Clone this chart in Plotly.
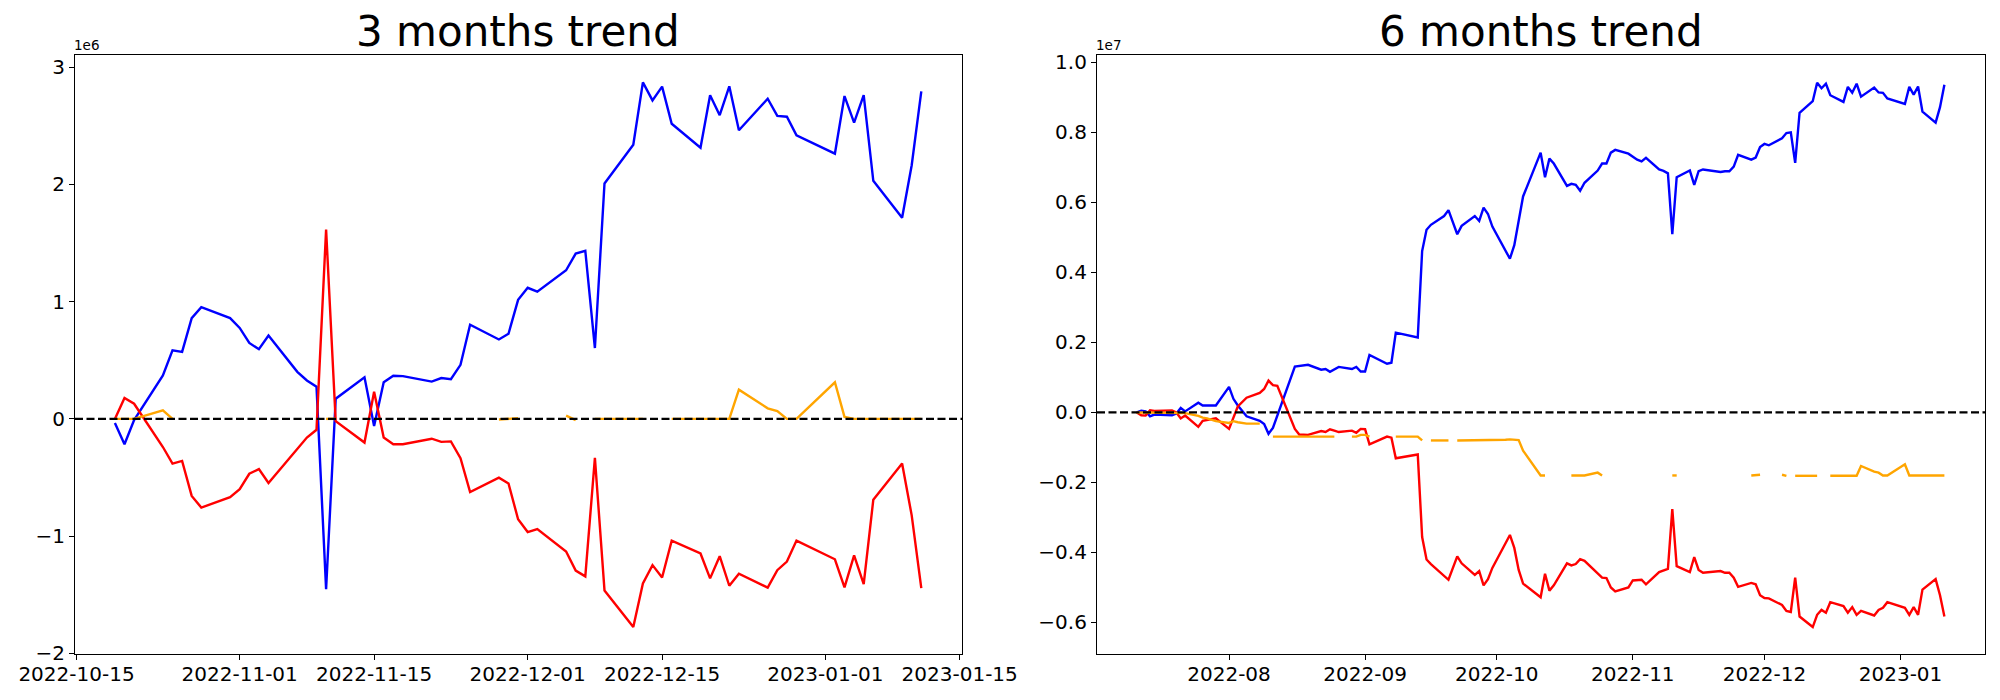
import plotly.graph_objects as go

# ---------------- 3 months panel (values in millions) ----------------
dates_3m = ["2022-10-19","2022-10-20","2022-10-21","2022-10-24","2022-10-25","2022-10-26","2022-10-27","2022-10-28","2022-10-31",
            "2022-11-01","2022-11-02","2022-11-03","2022-11-04","2022-11-07","2022-11-08","2022-11-09","2022-11-10","2022-11-11",
            "2022-11-14","2022-11-15","2022-11-16","2022-11-17","2022-11-18","2022-11-21","2022-11-22","2022-11-23","2022-11-24",
            "2022-11-25","2022-11-28","2022-11-29","2022-11-30",
            "2022-12-01","2022-12-02","2022-12-05","2022-12-06","2022-12-07","2022-12-08","2022-12-09","2022-12-12","2022-12-13",
            "2022-12-14","2022-12-15","2022-12-16","2022-12-19","2022-12-20","2022-12-21","2022-12-22","2022-12-23","2022-12-26",
            "2022-12-27","2022-12-28","2022-12-29",
            "2023-01-02","2023-01-03","2023-01-04","2023-01-05","2023-01-06","2023-01-09","2023-01-10","2023-01-11"]

blue_3m = [-0.036, -0.216, -0.01, 0.371, 0.584, 0.571, 0.859, 0.952, 0.859,
           0.776, 0.647, 0.594, 0.710, 0.401, 0.328, 0.275, -1.453, 0.172, 0.355, -0.06, 0.312, 0.368, 0.365,
           0.318, 0.348, 0.338, 0.461, 0.803, 0.677, 0.726, 1.015,
           1.118, 1.085, 1.267, 1.410, 1.433, 0.604, 2.007, 2.338, 2.869, 2.716, 2.833, 2.517, 2.312, 2.760,
           2.590, 2.836, 2.461, 2.730, 2.584, 2.577, 2.418,
           2.262, 2.753, 2.527, 2.760, 2.030, 1.715, 2.163, 2.793]

red_3m = [0, 0.179, 0.129, -0.24, -0.381, -0.358, -0.657, -0.756, -0.667,
          -0.600, -0.468, -0.428, -0.547, -0.249, -0.159, -0.093, 1.615, -0.02, -0.202, 0.232, -0.159, -0.216,
          -0.216, -0.169, -0.196, -0.192, -0.335, -0.624, -0.501, -0.551, -0.856,
          -0.965, -0.939, -1.131, -1.294, -1.343, -0.332, -1.463, -1.774, -1.403, -1.247, -1.353, -1.038, -1.148,
          -1.360, -1.171, -1.423, -1.320, -1.439, -1.290, -1.217, -1.038,
          -1.197, -1.436, -1.164, -1.410, -0.690, -0.381, -0.823, -1.443]

orange_3m = [0, 0, 0, 0.072, 0, None, None, None, None,
             None, None, None, None, None, None, None, 0, 0, None, None, None, None, None,
             None, None, None, None, None, -0.005, 0.003, 0.005,
             None, None, 0.028, -0.01, None, 0, 0, 0, 0, None, None, 0, 0, 0, 0, 0, 0.249, 0.09, 0.066, 0, 0,
             0.312, 0.017, 0, 0, 0, 0, 0, 0]

ticks_3m = ["2022-10-15", "2022-11-01", "2022-11-15", "2022-12-01", "2022-12-15", "2023-01-01", "2023-01-15"]
yticks_3m = [-2, -1, 0, 1, 2, 3]

# ---------------- 6 months panel (values in units of 1e7) ----------------
blue_6m = [("2022-07-11", 0), ("2022-07-12", 0.005), ("2022-07-13", 0.003), ("2022-07-14", -0.011), ("2022-07-15", -0.006),
           ("2022-07-18", -0.007), ("2022-07-19", -0.008), ("2022-07-20", -0.003), ("2022-07-21", 0.013), ("2022-07-22", 0.003),
           ("2022-07-25", 0.028), ("2022-07-26", 0.020), ("2022-07-29", 0.020), ("2022-08-01", 0.073), ("2022-08-02", 0.039),
           ("2022-08-03", 0.020), ("2022-08-05", -0.011), ("2022-08-08", -0.024), ("2022-08-09", -0.033), ("2022-08-10", -0.061),
           ("2022-08-11", -0.044), ("2022-08-16", 0.131), ("2022-08-19", 0.136), ("2022-08-22", 0.122), ("2022-08-23", 0.124),
           ("2022-08-24", 0.116), ("2022-08-26", 0.130), ("2022-08-29", 0.124), ("2022-08-30", 0.130), ("2022-08-31", 0.117),
           ("2022-09-01", 0.117), ("2022-09-02", 0.164), ("2022-09-06", 0.139), ("2022-09-07", 0.142), ("2022-09-08", 0.228),
           ("2022-09-13", 0.214), ("2022-09-14", 0.461), ("2022-09-15", 0.522), ("2022-09-16", 0.536), ("2022-09-19", 0.561),
           ("2022-09-20", 0.578), ("2022-09-22", 0.509), ("2022-09-23", 0.533), ("2022-09-26", 0.561), ("2022-09-27", 0.547),
           ("2022-09-28", 0.585), ("2022-09-29", 0.567), ("2022-09-30", 0.531), ("2022-10-04", 0.439), ("2022-10-05", 0.478),
           ("2022-10-07", 0.617), ("2022-10-11", 0.742), ("2022-10-12", 0.672), ("2022-10-13", 0.725), ("2022-10-14", 0.711),
           ("2022-10-17", 0.647), ("2022-10-18", 0.653), ("2022-10-19", 0.650), ("2022-10-20", 0.633), ("2022-10-21", 0.656),
           ("2022-10-24", 0.691), ("2022-10-25", 0.711), ("2022-10-26", 0.711), ("2022-10-27", 0.742), ("2022-10-28", 0.750),
           ("2022-10-31", 0.739), ("2022-11-01", 0.730), ("2022-11-02", 0.722), ("2022-11-03", 0.717), ("2022-11-04", 0.727),
           ("2022-11-07", 0.694), ("2022-11-08", 0.690), ("2022-11-09", 0.683), ("2022-11-10", 0.509), ("2022-11-11", 0.672),
           ("2022-11-14", 0.691), ("2022-11-15", 0.650), ("2022-11-16", 0.689), ("2022-11-17", 0.694), ("2022-11-21", 0.687),
           ("2022-11-22", 0.689), ("2022-11-23", 0.689), ("2022-11-24", 0.702), ("2022-11-25", 0.736), ("2022-11-28", 0.722),
           ("2022-11-29", 0.728), ("2022-11-30", 0.758), ("2022-12-01", 0.767), ("2022-12-02", 0.763), ("2022-12-05", 0.783),
           ("2022-12-06", 0.798), ("2022-12-07", 0.800), ("2022-12-08", 0.713), ("2022-12-09", 0.856), ("2022-12-12", 0.889),
           ("2022-12-13", 0.942), ("2022-12-14", 0.926), ("2022-12-15", 0.939), ("2022-12-16", 0.906), ("2022-12-19", 0.887),
           ("2022-12-20", 0.930), ("2022-12-21", 0.913), ("2022-12-22", 0.939), ("2022-12-23", 0.902), ("2022-12-26", 0.928),
           ("2022-12-27", 0.914), ("2022-12-28", 0.913), ("2022-12-29", 0.897), ("2023-01-02", 0.881), ("2023-01-03", 0.930),
           ("2023-01-04", 0.908), ("2023-01-05", 0.931), ("2023-01-06", 0.859), ("2023-01-09", 0.828), ("2023-01-10", 0.872),
           ("2023-01-11", 0.936)]

red_6m = [("2022-07-11", 0), ("2022-07-12", -0.008), ("2022-07-13", -0.009), ("2022-07-14", 0.006), ("2022-07-15", 0.004),
          ("2022-07-18", 0.006), ("2022-07-19", 0.006), ("2022-07-20", 0), ("2022-07-21", -0.017), ("2022-07-22", -0.009),
          ("2022-07-25", -0.041), ("2022-07-26", -0.024), ("2022-07-28", -0.020), ("2022-07-29", -0.017), ("2022-08-01", -0.047),
          ("2022-08-02", -0.017), ("2022-08-03", 0.017), ("2022-08-05", 0.042), ("2022-08-08", 0.056), ("2022-08-09", 0.067),
          ("2022-08-10", 0.091), ("2022-08-11", 0.078), ("2022-08-12", 0.076), ("2022-08-16", -0.047), ("2022-08-17", -0.063),
          ("2022-08-19", -0.064), ("2022-08-22", -0.053), ("2022-08-23", -0.056), ("2022-08-24", -0.048), ("2022-08-25", -0.052),
          ("2022-08-26", -0.056), ("2022-08-29", -0.052), ("2022-08-30", -0.058), ("2022-08-31", -0.047), ("2022-09-01", -0.048),
          ("2022-09-02", -0.091), ("2022-09-06", -0.069), ("2022-09-07", -0.072), ("2022-09-08", -0.131), ("2022-09-13", -0.120),
          ("2022-09-14", -0.356), ("2022-09-15", -0.420), ("2022-09-16", -0.433), ("2022-09-20", -0.478), ("2022-09-22", -0.411),
          ("2022-09-23", -0.431), ("2022-09-26", -0.464), ("2022-09-27", -0.453), ("2022-09-28", -0.494), ("2022-09-29", -0.476),
          ("2022-09-30", -0.444), ("2022-10-04", -0.350), ("2022-10-05", -0.387), ("2022-10-06", -0.450), ("2022-10-07", -0.489),
          ("2022-10-11", -0.528), ("2022-10-12", -0.461), ("2022-10-13", -0.509), ("2022-10-14", -0.494), ("2022-10-17", -0.431),
          ("2022-10-18", -0.437), ("2022-10-19", -0.433), ("2022-10-20", -0.419), ("2022-10-21", -0.424), ("2022-10-25", -0.472),
          ("2022-10-26", -0.473), ("2022-10-27", -0.500), ("2022-10-28", -0.511), ("2022-10-31", -0.500), ("2022-11-01", -0.480),
          ("2022-11-03", -0.478), ("2022-11-04", -0.491), ("2022-11-07", -0.456), ("2022-11-09", -0.447), ("2022-11-10", -0.276),
          ("2022-11-11", -0.439), ("2022-11-14", -0.456), ("2022-11-15", -0.413), ("2022-11-16", -0.450), ("2022-11-17", -0.458),
          ("2022-11-21", -0.453), ("2022-11-22", -0.458), ("2022-11-23", -0.458), ("2022-11-24", -0.472), ("2022-11-25", -0.498),
          ("2022-11-28", -0.487), ("2022-11-29", -0.491), ("2022-11-30", -0.522), ("2022-12-01", -0.530), ("2022-12-02", -0.531),
          ("2022-12-05", -0.550), ("2022-12-06", -0.567), ("2022-12-07", -0.570), ("2022-12-08", -0.472), ("2022-12-09", -0.583),
          ("2022-12-12", -0.613), ("2022-12-13", -0.578), ("2022-12-14", -0.564), ("2022-12-15", -0.572), ("2022-12-16", -0.542),
          ("2022-12-19", -0.553), ("2022-12-20", -0.572), ("2022-12-21", -0.556), ("2022-12-22", -0.578), ("2022-12-23", -0.567),
          ("2022-12-26", -0.580), ("2022-12-27", -0.564), ("2022-12-28", -0.558), ("2022-12-29", -0.542), ("2023-01-02", -0.558),
          ("2023-01-03", -0.578), ("2023-01-04", -0.556), ("2023-01-05", -0.578), ("2023-01-06", -0.506), ("2023-01-09", -0.476),
          ("2023-01-10", -0.522), ("2023-01-11", -0.583)]

orange_6m = [("2022-07-11", 0), ("2022-07-12", 0), ("2022-07-13", 0), ("2022-07-14", 0), ("2022-07-15", 0),
             ("2022-07-18", 0), ("2022-07-19", 0), ("2022-07-20", 0), ("2022-07-21", -0.002), ("2022-07-22", -0.002),
             ("2022-07-25", -0.010), ("2022-07-26", -0.015), ("2022-07-27", -0.017), ("2022-07-28", -0.022), ("2022-07-29", -0.025),
             ("2022-08-01", -0.030), ("2022-08-02", -0.025), ("2022-08-03", -0.028), ("2022-08-04", -0.030), ("2022-08-05", -0.032),
             ("2022-08-08", -0.032), ("2022-08-09", None), ("2022-08-10", None), ("2022-08-11", -0.069), ("2022-08-12", -0.069),
             ("2022-08-15", -0.069), ("2022-08-16", -0.069), ("2022-08-17", -0.069), ("2022-08-18", -0.069), ("2022-08-19", -0.069),
             ("2022-08-22", -0.069), ("2022-08-23", -0.069), ("2022-08-24", -0.069), ("2022-08-25", -0.069), ("2022-08-26", None),
             ("2022-08-29", -0.069), ("2022-08-30", -0.069), ("2022-08-31", -0.064), ("2022-09-01", -0.064), ("2022-09-02", -0.069),
             ("2022-09-06", None), ("2022-09-07", None), ("2022-09-08", -0.069), ("2022-09-09", -0.069), ("2022-09-12", -0.069),
             ("2022-09-13", -0.069), ("2022-09-14", -0.080), ("2022-09-15", None), ("2022-09-16", -0.080), ("2022-09-19", -0.080),
             ("2022-09-20", -0.080), ("2022-09-21", None), ("2022-09-22", -0.080), ("2022-09-23", -0.080), ("2022-09-26", -0.079),
             ("2022-09-27", -0.079), ("2022-09-28", -0.079), ("2022-09-29", -0.078), ("2022-09-30", -0.078), ("2022-10-03", -0.078),
             ("2022-10-04", -0.077), ("2022-10-05", -0.078), ("2022-10-06", -0.079), ("2022-10-07", -0.109), ("2022-10-11", -0.180),
             ("2022-10-12", -0.180), ("2022-10-13", None), ("2022-10-18", -0.180), ("2022-10-19", -0.180), ("2022-10-20", -0.180),
             ("2022-10-21", -0.180), ("2022-10-24", -0.172), ("2022-10-25", -0.180), ("2022-10-26", None), ("2022-11-10", -0.180),
             ("2022-11-11", -0.180), ("2022-11-14", None), ("2022-11-28", -0.180), ("2022-11-29", -0.180), ("2022-11-30", -0.178),
             ("2022-12-01", None), ("2022-12-05", -0.178), ("2022-12-06", -0.181), ("2022-12-07", None), ("2022-12-08", -0.181),
             ("2022-12-09", -0.181), ("2022-12-12", -0.181), ("2022-12-13", -0.181), ("2022-12-14", None), ("2022-12-16", -0.181),
             ("2022-12-19", -0.181), ("2022-12-20", -0.181), ("2022-12-21", -0.181), ("2022-12-22", -0.181), ("2022-12-23", -0.153),
             ("2022-12-26", -0.169), ("2022-12-27", -0.172), ("2022-12-28", -0.180), ("2022-12-29", -0.180), ("2023-01-02", -0.148),
             ("2023-01-03", -0.180), ("2023-01-04", -0.180), ("2023-01-05", -0.180), ("2023-01-06", -0.180), ("2023-01-09", -0.180),
             ("2023-01-10", -0.180), ("2023-01-11", -0.180)]

ticks_6m = ["2022-08-01", "2022-09-01", "2022-10-01", "2022-11-01", "2022-12-01", "2023-01-01"]
ticklabels_6m = ["2022-08", "2022-09", "2022-10", "2022-11", "2022-12", "2023-01"]
yticks_6m = [-0.6, -0.4, -0.2, 0.0, 0.2, 0.4, 0.6, 0.8, 1.0]

# ---------------- figure ----------------
W, H = 2000, 700
OFF = 8  # the page body has an 8px margin; positions below are given in page pixels
FONT = "DejaVu Sans"
LW = 2.4


def px_x(p):
    return (p - OFF) / W


def px_y(p):
    return 1 - (p - OFF) / H


def sc(vals, k):
    return [None if v is None else v * k for v in vals]


def minus(s):
    return s.replace("-", "\u2212")


fig = go.Figure()

# left panel
fig.add_trace(go.Scatter(x=dates_3m, y=sc(blue_3m, 1e6), mode="lines", line=dict(color="blue", width=LW),
                         xaxis="x", yaxis="y", connectgaps=False))
fig.add_trace(go.Scatter(x=dates_3m, y=sc(red_3m, 1e6), mode="lines", line=dict(color="red", width=LW),
                         xaxis="x", yaxis="y", connectgaps=False))
fig.add_trace(go.Scatter(x=dates_3m, y=sc(orange_3m, 1e6), mode="lines", line=dict(color="orange", width=LW),
                         xaxis="x", yaxis="y", connectgaps=False))

# right panel
fig.add_trace(go.Scatter(x=[d for d, _ in blue_6m], y=[v * 1e7 for _, v in blue_6m], mode="lines",
                         line=dict(color="blue", width=LW), xaxis="x2", yaxis="y2"))
fig.add_trace(go.Scatter(x=[d for d, _ in red_6m], y=[v * 1e7 for _, v in red_6m], mode="lines",
                         line=dict(color="red", width=LW), xaxis="x2", yaxis="y2"))
fig.add_trace(go.Scatter(x=[d for d, _ in orange_6m], y=sc([v for _, v in orange_6m], 1e7), mode="lines",
                         line=dict(color="orange", width=LW), xaxis="x2", yaxis="y2", connectgaps=False))

# zero lines (dashed black)
for xr, yr in (("x domain", "y"), ("x2 domain", "y2")):
    fig.add_shape(type="line", xref=xr, yref=yr, x0=0, x1=1, y0=0, y1=0,
                  line=dict(color="black", width=2.3, dash="8px,3.5px"))

axis_common = dict(showline=True, linecolor="black", linewidth=1.2, mirror=True, ticks="outside",
                   ticklen=5, tickwidth=1.2, tickcolor="black", showgrid=False, zeroline=False,
                   automargin=False, tickfont=dict(family=FONT, size=20, color="black"))

ydom = [px_y(654), px_y(55)]

fig.update_layout(
    width=W, height=H,
    margin=dict(l=0, r=0, t=0, b=0, autoexpand=False),
    paper_bgcolor="white", plot_bgcolor="white",
    showlegend=False,
    xaxis=dict(domain=[px_x(75), px_x(962)], type="date",
               range=["2022-10-14 20:15", "2023-01-15 05:45"],
               tickvals=ticks_3m, ticktext=ticks_3m, anchor="y", ticklabelstandoff=-3, **axis_common),
    yaxis=dict(domain=ydom, range=[-2.005e6, 3.103e6],
               tickvals=[v * 1e6 for v in yticks_3m], ticktext=[minus(str(v)) for v in yticks_3m],
               anchor="x", **axis_common),
    xaxis2=dict(domain=[px_x(1097), px_x(1985)], type="date",
                range=["2022-07-01 22:00", "2023-01-20 06:00"],
                tickvals=ticks_6m, ticktext=ticklabels_6m, anchor="y2", ticklabelstandoff=-3, **axis_common),
    yaxis2=dict(domain=ydom, range=[-0.69e7, 1.021e7],
                tickvals=[v * 1e7 for v in yticks_6m], ticktext=[minus(f"{v:.1f}") for v in yticks_6m],
                anchor="x2", **axis_common),
)

# titles
fig.add_annotation(text="3 months trend", xref="paper", yref="paper", x=px_x(518.5), y=px_y(32),
                   xanchor="center", yanchor="middle", showarrow=False,
                   font=dict(family=FONT, size=42, color="black"))
fig.add_annotation(text="6 months trend", xref="paper", yref="paper", x=px_x(1541), y=px_y(32),
                   xanchor="center", yanchor="middle", showarrow=False,
                   font=dict(family=FONT, size=42, color="black"))

# offset (scale) texts
fig.add_annotation(text="1e6", xref="paper", yref="paper", x=px_x(72), y=px_y(55),
                   xanchor="left", yanchor="bottom", showarrow=False,
                   font=dict(family=FONT, size=13.5, color="black"))
fig.add_annotation(text="1e7", xref="paper", yref="paper", x=px_x(1094), y=px_y(55),
                   xanchor="left", yanchor="bottom", showarrow=False,
                   font=dict(family=FONT, size=13.5, color="black"))

fig.write_html("out.html")
